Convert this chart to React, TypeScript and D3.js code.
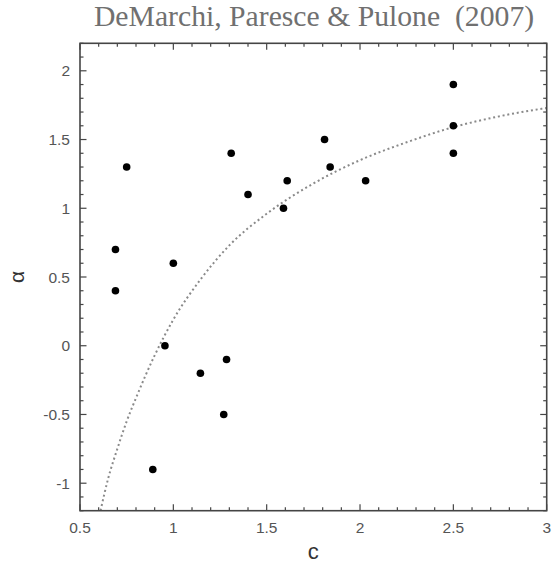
import React from "react";
import * as d3 from "d3";

const cValues = [0.69, 0.69, 0.75, 0.89, 0.955, 1.0, 1.145, 1.27, 1.285, 1.31, 1.4, 1.59, 1.61, 1.81, 1.84, 2.03, 2.5, 2.5, 2.5];
const alphaValues = [0.7, 0.4, 1.3, -0.9, 0.0, 0.6, -0.2, -0.5, -0.1, 1.4, 1.1, 1.0, 1.2, 1.5, 1.3, 1.2, 1.9, 1.6, 1.4];

const curveC = [0.61, 0.65, 0.7, 0.75, 0.8, 0.9, 1.0, 1.15, 1.3, 1.5, 1.75, 2.0, 2.25, 2.5, 2.75, 3.0];
const curveAlpha = [-1.2, -0.97, -0.75, -0.55, -0.38, -0.07, 0.19, 0.49, 0.73, 0.96, 1.18, 1.35, 1.48, 1.59, 1.67, 1.73];

const xTickLabels = ["0.5", "1", "1.5", "2", "2.5", "3"];
const yTickLabels = ["-1", "-0.5", "0", "0.5", "1", "1.5", "2"];

const titleText = "DeMarchi, Paresce & Pulone  (2007)";

export default function App() {
  const W = 554, H = 564;
  const left = 80, right = 546.7, top = 43.3, bottom = 510.7;
  const x = d3.scaleLinear().domain([0.5, 3]).range([left, right]);
  const y = d3.scaleLinear().domain([-1.2, 2.2]).range([bottom, top]);

  const xMinor = d3.range(5, 31).map((v) => v / 10);
  const yMinor = d3.range(-12, 23).map((v) => v / 10);
  const isMajor = (v: number) => Math.abs(v * 2 - Math.round(v * 2)) < 1e-6;

  const line = d3
    .line<number>()
    .x((_, i) => x(curveC[i]))
    .y((_, i) => y(curveAlpha[i]))
    .curve(d3.curveMonotoneX);

  const axisColor = "#454545";
  const labelColor = "#555";
  const sans = "'Liberation Sans', Arial, Helvetica, sans-serif";

  return (
    <svg
      width={W}
      height={H}
      style={{ position: "absolute", left: 0, top: 0, background: "#fff" }}
    >
      <text
        x={314}
        y={26}
        textAnchor="middle"
        fontFamily="'Liberation Serif', 'Times New Roman', serif"
        fontSize={29.7}
        fill="#707070"
        style={{ whiteSpace: "pre" }}
      >
        {titleText}
      </text>

      <path
        d={line(curveC) || ""}
        fill="none"
        stroke="#8a8a8a"
        strokeWidth={2}
        strokeDasharray="2 2.8"
      />

      {xMinor.map((v) => {
        const len = isMajor(v) ? 6.5 : 3.5;
        const px = x(v);
        return (
          <g key={"xt" + v}>
            <line x1={px} x2={px} y1={bottom} y2={bottom - len} stroke={axisColor} strokeWidth={1.2} />
            <line x1={px} x2={px} y1={top} y2={top + len} stroke={axisColor} strokeWidth={1.2} />
          </g>
        );
      })}
      {yMinor.map((v) => {
        const len = isMajor(v) ? 6.5 : 3.5;
        const py = y(v);
        return (
          <g key={"yt" + v}>
            <line x1={left} x2={left + len} y1={py} y2={py} stroke={axisColor} strokeWidth={1.2} />
            <line x1={right} x2={right - len} y1={py} y2={py} stroke={axisColor} strokeWidth={1.2} />
          </g>
        );
      })}

      <rect
        x={left}
        y={top}
        width={right - left}
        height={bottom - top}
        fill="none"
        stroke={axisColor}
        strokeWidth={1.6}
      />

      {xTickLabels.map((t) => (
        <text
          key={"xl" + t}
          x={x(+t)}
          y={532.5}
          textAnchor="middle"
          fontFamily={sans}
          fontSize={15.5}
          fill={labelColor}
        >
          {t}
        </text>
      ))}
      {yTickLabels.map((t) => (
        <text
          key={"yl" + t}
          x={70}
          y={y(+t) + 5.5}
          textAnchor="end"
          fontFamily={sans}
          fontSize={15.5}
          fill={labelColor}
        >
          {t}
        </text>
      ))}

      <text x={313.3} y={558.5} textAnchor="middle" fontFamily={sans} fontSize={22} fill="#333">
        c
      </text>
      <text
        transform={`translate(24,277) rotate(-90)`}
        textAnchor="middle"
        fontFamily={sans}
        fontSize={21}
        fill="#333"
      >
        α
      </text>

      {cValues.map((c, i) => (
        <circle key={"p" + i} cx={x(c)} cy={y(alphaValues[i])} r={3.8} fill="#000" />
      ))}
    </svg>
  );
}
